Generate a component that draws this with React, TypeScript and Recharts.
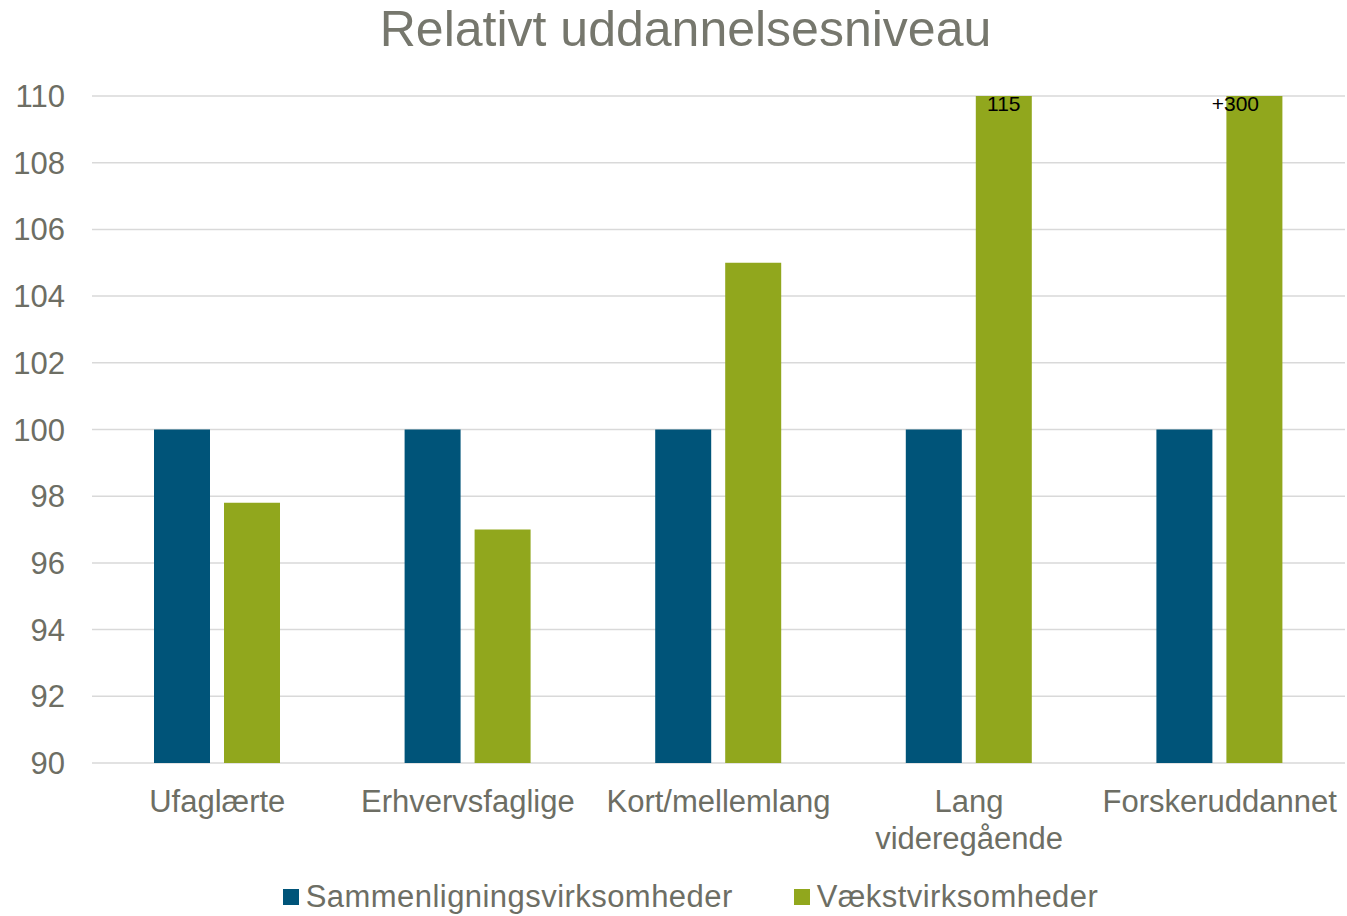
import React from "react";
import { BarChart, Bar, XAxis, YAxis, CartesianGrid, Legend, LabelList } from "recharts";

const categories = ["Ufaglærte", "Erhvervsfaglige", "Kort/mellemlang", "Lang\nvideregående", "Forskeruddannet"];
const sammenligning = [100, 100, 100, 100, 100];
const vaekst = [97.8, 97, 105, 115, 300];
const vaekstLabels = ["", "", "", "115", "+300"];
const yTicks = [90, 92, 94, 96, 98, 100, 102, 104, 106, 108, 110];
const seriesNames = ["Sammenligningsvirksomheder", "Vækstvirksomheder"];

const data = categories.map((c, i) => ({
  name: c,
  a: sammenligning[i],
  b: vaekst[i],
  lbl: vaekstLabels[i],
}));

const BLUE = "#005479";
const GREEN = "#91A71D";
const TEXT = "#6d6e64";
const FONT = "'Liberation Sans', Arial, sans-serif";
const MARGIN = { top: 96, right: 2, bottom: 0, left: 0 };
const LABEL_DX: Record<number, number> = { 3: 0, 4: -19 };

const XTick = (props: any) => {
  const { x, y, payload } = props;
  const lines = String(payload.value).split("\n");
  return (
    <text x={x} y={y} textAnchor="middle" fill={TEXT} fontSize={31} fontFamily={FONT}>
      {lines.map((l, i) => (
        <tspan key={i} x={x} dy={i === 0 ? "0.71em" : 37}>
          {l}
        </tspan>
      ))}
    </text>
  );
};

const TopLabel = (props: any) => {
  const { x, y, width, index } = props;
  const txt = vaekstLabels[index];
  if (!txt) return null;
  const top = Math.max(y, MARGIN.top);
  return (
    <text
      x={x + width / 2 + (LABEL_DX[index] || 0)}
      y={top + 15}
      textAnchor="middle"
      fill="#000"
      fontSize={21}
      fontFamily={FONT}
    >
      {txt}
    </text>
  );
};

const LegendContent = () => (
  <div
    style={{
      height: 38,
      display: "flex",
      justifyContent: "center",
      alignItems: "center",
      fontFamily: FONT,
      fontSize: 31,
      letterSpacing: 0.45,
      color: TEXT,
      gap: 61,
      paddingLeft: 36,
    }}
  >
    {seriesNames.map((n, i) => (
      <div key={n} style={{ display: "flex", alignItems: "center" }}>
        <span style={{ width: 16, height: 16, background: i === 0 ? BLUE : GREEN, marginRight: 7, display: "inline-block" }} />
        <span>{n}</span>
      </div>
    ))}
  </div>
);

export default function App() {
  return (
    <div style={{ position: "absolute", left: 0, top: 0, width: 1347, height: 916, background: "#fff" }}>
      <div
        style={{
          position: "absolute",
          top: 4,
          left: 12,
          width: 1347,
          height: 50,
          lineHeight: "50px",
          textAlign: "center",
          fontFamily: FONT,
          fontSize: 50,
          color: "#76776d",
        }}
      >
        Relativt uddannelsesniveau
      </div>
      <BarChart width={1347} height={916} data={data} margin={MARGIN} barGap={14} barSize={56}>
        <CartesianGrid vertical={false} stroke="#d9d9d9" strokeWidth={1.5} />
        <XAxis
          dataKey="name"
          axisLine={false}
          tickLine={false}
          tickSize={0}
          tickMargin={27}
          height={115}
          interval={0}
          tick={<XTick />}
        />
        <YAxis
          domain={[90, 110]}
          ticks={yTicks}
          allowDataOverflow
          axisLine={false}
          tickLine={false}
          tickSize={0}
          tickMargin={27}
          width={92}
          tick={{ fill: TEXT, fontSize: 31, fontFamily: FONT }}
        />
        <Legend verticalAlign="bottom" content={<LegendContent />} />
        <Bar dataKey="a" name={seriesNames[0]} fill={BLUE} isAnimationActive={false} />
        <Bar dataKey="b" name={seriesNames[1]} fill={GREEN} isAnimationActive={false}>
          <LabelList dataKey="lbl" content={<TopLabel />} />
        </Bar>
      </BarChart>
    </div>
  );
}
